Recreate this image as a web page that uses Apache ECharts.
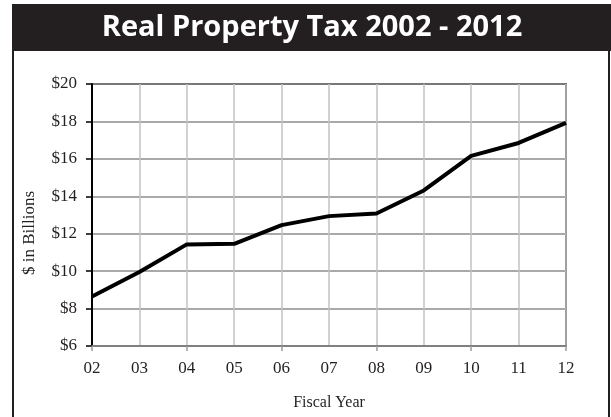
<!DOCTYPE html>
<html>
<head>
<meta charset="utf-8">
<script src="https://cdn.jsdelivr.net/npm/echarts@6/dist/echarts.min.js"></script>
<style>
  html, body { margin: 0; padding: 0; background: #fff; }
  #chart { width: 611px; height: 417px; }
</style>
</head>
<body>
<div id="chart"></div>
<script>
// Fiscal years and real property tax revenue ($ billions)
const fiscalYears = ['02', '03', '04', '05', '06', '07', '08', '09', '10', '11', '12'];
const taxBillions = [8.65, 9.95, 11.43, 11.46, 12.46, 12.94, 13.08, 14.31, 16.16, 16.85, 17.92];
const yMin = 6, yMax = 20, yStep = 2;

const serif = '"Liberation Serif", "DejaVu Serif", serif';
const ink = '#231f20';

const chart = echarts.init(document.getElementById('chart'), null, { renderer: 'canvas' });

chart.setOption({
  animation: false,
  backgroundColor: '#ffffff',
  graphic: [
    // outer frame
    { type: 'rect', shape: { x: 13, y: 50, width: 596, height: 380 },
      style: { fill: 'none', stroke: ink, lineWidth: 2 }, z: 1 },
    // title band
    { type: 'rect', shape: { x: 12, y: 4, width: 600, height: 47 },
      style: { fill: ink }, z: 2 },
    { type: 'text', x: 312, y: 28, z: 3,
      style: { text: 'Real Property Tax 2002 - 2012', fill: '#ffffff',
               font: 'bold 29px "Open Sans", "Noto Sans", sans-serif',
               textAlign: 'center', textVerticalAlign: 'middle' } },
    // axis titles
    { type: 'text', x: 30, y: 233, rotation: Math.PI / 2, z: 3,
      style: { text: '$ in Billions', fill: ink, font: '17px ' + serif,
               textAlign: 'center', textVerticalAlign: 'middle' } },
    { type: 'text', x: 329, y: 403, z: 3,
      style: { text: 'Fiscal Year', fill: ink, font: '16px ' + serif,
               textAlign: 'center', textVerticalAlign: 'middle' } }
  ],
  grid: {
    left: 92, top: 84, width: 474, height: 262,
    show: true, borderColor: '#000', borderWidth: 1.5, backgroundColor: 'transparent'
  },
  xAxis: {
    type: 'category',
    data: fiscalYears,
    boundaryGap: false,
    axisLine: { lineStyle: { color: '#808080', width: 2 }, z: 5 },
    axisTick: { show: true, interval: 1, length: 5, lineStyle: { color: '#9a9a9a', width: 1.5 } },
    axisLabel: { interval: 0, margin: 14, color: ink, fontFamily: serif, fontSize: 17 },
    splitLine: { show: true, interval: 0, lineStyle: { color: '#c2c2c2', width: 1.5 } }
  },
  yAxis: {
    type: 'value',
    min: yMin, max: yMax, interval: yStep,
    axisLine: { show: true, lineStyle: { color: '#000', width: 2 } },
    axisTick: { show: true, length: 6, lineStyle: { color: '#000', width: 1.5 } },
    axisLabel: { margin: 15, color: ink, fontFamily: serif, fontSize: 17,
                 formatter: v => '$' + v },
    splitLine: { show: true, lineStyle: { color: '#8c8c8c', width: 1.5 } }
  },
  series: [{
    type: 'line',
    data: taxBillions,
    showSymbol: false,
    lineStyle: { color: '#000', width: 4, join: 'round' },
    z: 10
  }]
});
</script>
</body>
</html>
